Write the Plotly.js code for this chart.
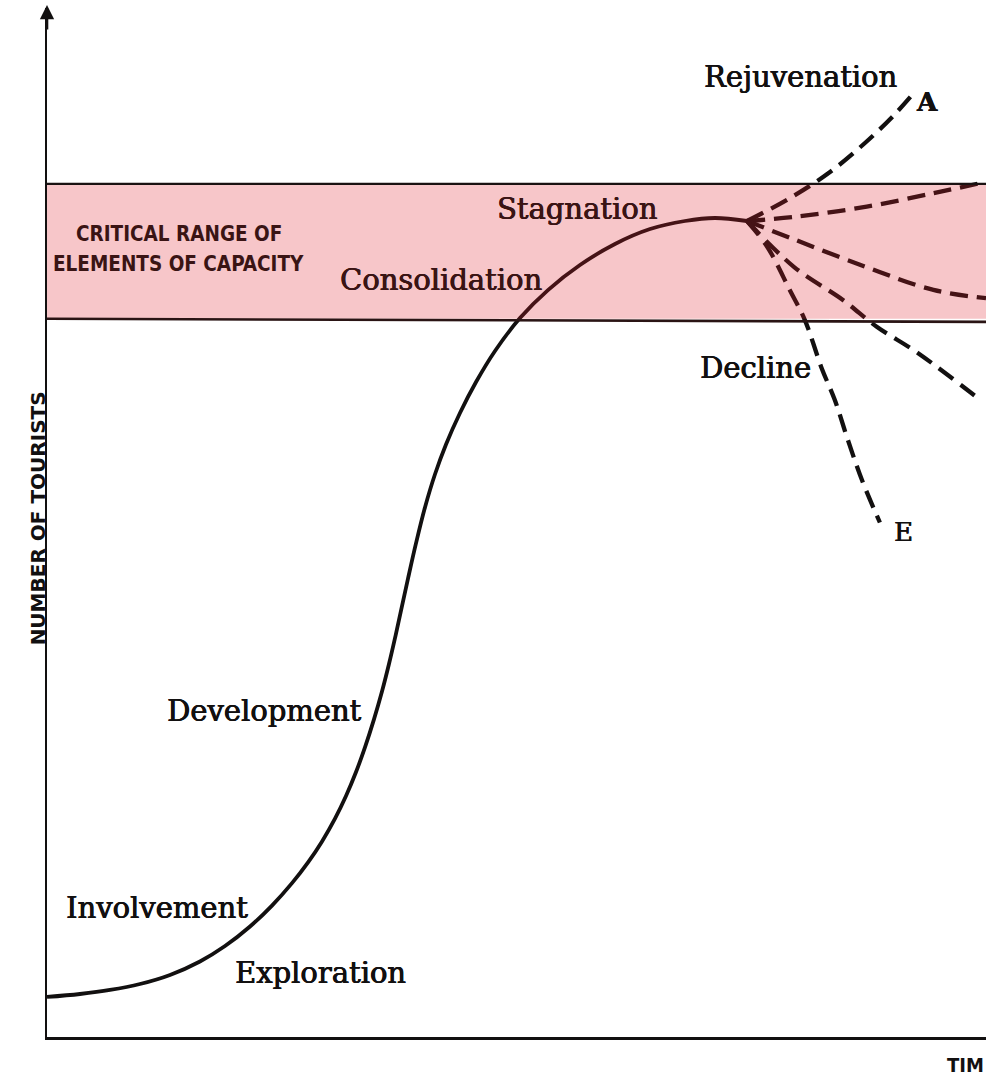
<!DOCTYPE html>
<html>
<head>
<meta charset="utf-8">
<script src="https://cdn.plot.ly/plotly-3.0.1.min.js"></script>
<style>
  html, body { margin: 0; padding: 0; background: #fff; }
  #chart { width: 986px; height: 1078px; }
</style>
</head>
<body>
<div id="chart"></div>
<script>
// ---- Data (time in arbitrary units 0-100, number of tourists 0-100) ----
const mainTime     = [0, 3.51, 6.71, 9.90, 13.10, 16.29, 18.96, 21.62, 23.96, 26.09, 27.80, 29.29, 30.67, 31.84, 32.91, 33.87, 34.82, 35.68, 36.42, 37.06, 37.70, 38.45, 39.30, 40.26, 41.32, 42.49, 43.98, 45.69, 47.71, 50.37, 53.35, 56.76, 60.49, 64.22, 67.94, 71.14, 74.55];
const mainTourists = [3.89, 4.18, 4.57, 5.15, 6.03, 7.34, 8.84, 10.74, 12.77, 14.95, 16.97, 19.01, 21.22, 23.42, 25.75, 28.17, 30.87, 33.60, 36.25, 38.76, 41.44, 44.57, 47.99, 51.49, 54.69, 57.58, 60.64, 63.65, 66.67, 69.87, 72.59, 75.02, 77.07, 78.52, 79.30, 79.59, 79.30];

const branchA_time = [74.55, 79.13, 83.39, 87.11, 90.10, 92.12];
const branchA_val  = [79.3, 81.53, 84.06, 86.88, 89.50, 91.55];
const branchB_time = [74.55, 79.6, 87.3, 94.4, 100];
const branchB_val  = [79.3, 79.7, 80.7, 82.0, 83.1];
const branchC_time = [74.55, 79.6, 87.3, 94.4, 100];
const branchC_val  = [79.3, 77.5, 74.8, 72.6, 71.8];
const branchD_time = [74.55, 79.6, 84.8, 88.4, 92.7, 99.4];
const branchD_val  = [79.3, 74.8, 71.6, 69.0, 66.5, 61.9];
const branchE_time = [74.55, 76.7, 79.1, 80.7, 82.5, 83.9, 85.3, 86.8, 88.7];
const branchE_val  = [79.3, 76.8, 72.6, 69.7, 65.0, 61.9, 58.0, 54.1, 50.0];

const criticalLow  = 69.8;
const criticalHigh = 82.9;

const stageLabels = ["Exploration", "Involvement", "Development", "Consolidation", "Stagnation", "Rejuvenation", "Decline"];
const stageTime   = [29.1, 11.7, 23.2, 42.0, 56.4, 80.2, 75.5];
const stageVal    = [6.2, 12.5, 31.7, 73.6, 80.5, 93.3, 65.0];
const stageInBand = [false, false, false, true, true, false, false];

const endLabels = ["A", "E"];
const endTime   = [93.7, 91.2];
const endVal    = [90.9, 49.1];

const rangeLabelLines = ["CRITICAL RANGE OF", "ELEMENTS OF CAPACITY"];
const rangeLabelTime  = [14.1, 14.0];
const rangeLabelVal   = [78.0, 75.1];

const yAxisLabel = "NUMBER OF TOURISTS";
const xAxisLabel = "TIM";

// ---- Styles ----
const serif = "DejaVu Serif, Liberation Serif, serif";
const narrow = "DejaVu Sans Condensed, Liberation Sans Narrow, Arial Narrow, sans-serif";
const ink = "#121010";
const inkBand = "#3a1414";
const faux = (c) => "0.5px 0px 0px " + c + ", -0.3px 0px 0px " + c;

const dashStyle = { color: ink, width: 4.3, dash: "18px,9px", shape: "spline", smoothing: 1 };

const traces = [
  { x: mainTime, y: mainTourists, mode: "lines", line: { color: ink, width: 3.8, shape: "spline", smoothing: 1 }, hoverinfo: "skip" },
  { x: branchA_time, y: branchA_val, mode: "lines", line: dashStyle, hoverinfo: "skip" },
  { x: branchB_time, y: branchB_val, mode: "lines", line: dashStyle, hoverinfo: "skip" },
  { x: branchC_time, y: branchC_val, mode: "lines", line: dashStyle, hoverinfo: "skip" },
  { x: branchD_time, y: branchD_val, mode: "lines", line: dashStyle, hoverinfo: "skip" },
  { x: branchE_time, y: branchE_val, mode: "lines", line: dashStyle, hoverinfo: "skip" }
];

const annotations = [];
stageLabels.forEach((t, i) => {
  const c = stageInBand[i] ? inkBand : ink;
  annotations.push({
    x: stageTime[i], y: stageVal[i], xref: "x", yref: "y", text: t, showarrow: false,
    xanchor: "center", yanchor: "middle",
    font: { family: serif, size: 29, color: c, shadow: faux(c) }
  });
});
endLabels.forEach((t, i) => {
  annotations.push({
    x: endTime[i], y: endVal[i], xref: "x", yref: "y", text: t, showarrow: false,
    xanchor: "center", yanchor: "middle",
    font: { family: serif, size: 26, color: ink, weight: i === 0 ? "bold" : "normal", shadow: faux(ink) }
  });
});
rangeLabelLines.forEach((t, i) => {
  annotations.push({
    x: rangeLabelTime[i], y: rangeLabelVal[i], xref: "x", yref: "y", text: t, showarrow: false,
    xanchor: "center", yanchor: "middle",
    font: { family: narrow, size: 20.5, color: inkBand, weight: "bold" }
  });
});
// y axis title (rotated)
annotations.push({
  x: -0.0096, y: 0.504, xref: "paper", yref: "paper", text: yAxisLabel, showarrow: false,
  textangle: -90, xanchor: "center", yanchor: "middle",
  font: { family: "DejaVu Sans, sans-serif", size: 20, color: ink, weight: "bold" }
});
// x axis title, bottom right
annotations.push({
  x: 1, y: -0.027, xref: "paper", yref: "paper", text: xAxisLabel, showarrow: false,
  xanchor: "right", yanchor: "middle",
  font: { family: narrow, size: 20, color: ink, weight: "bold" }
});
// arrow head on the y axis
annotations.push({
  x: 0, y: 1.003, xref: "paper", yref: "paper", text: "", showarrow: true,
  ax: 0, ay: 26, arrowhead: 2, arrowsize: 1.1, arrowwidth: 2.6, arrowcolor: ink
});

const shapes = [
  { type: "rect", xref: "x", yref: "y", x0: 0, x1: 100, y0: criticalLow, y1: criticalHigh,
    fillcolor: "rgba(223,27,39,0.25)", line: { width: 0 }, layer: "above" },
  { type: "line", xref: "x", yref: "y", x0: 0, x1: 100, y0: criticalHigh, y1: criticalHigh,
    line: { color: "#1a1212", width: 2.2 }, layer: "above" },
  { type: "line", xref: "x", yref: "y", x0: 0, x1: 100, y0: criticalLow, y1: criticalLow - 0.3,
    line: { color: "#2a1414", width: 2.6 }, layer: "above" }
];

const layout = {
  width: 986, height: 1078,
  margin: { l: 47, r: 0, t: 8, b: 41 },
  paper_bgcolor: "#ffffff", plot_bgcolor: "#ffffff",
  showlegend: false,
  xaxis: { range: [0, 100], showgrid: false, zeroline: false, showticklabels: false, ticks: "",
           showline: true, linecolor: ink, linewidth: 2.5, fixedrange: true },
  yaxis: { range: [0, 100], showgrid: false, zeroline: false, showticklabels: false, ticks: "",
           showline: true, linecolor: ink, linewidth: 2.5, fixedrange: true },
  shapes: shapes,
  annotations: annotations
};

Plotly.newPlot("chart", traces, layout, { displayModeBar: false, staticPlot: true });
</script>
</body>
</html>
